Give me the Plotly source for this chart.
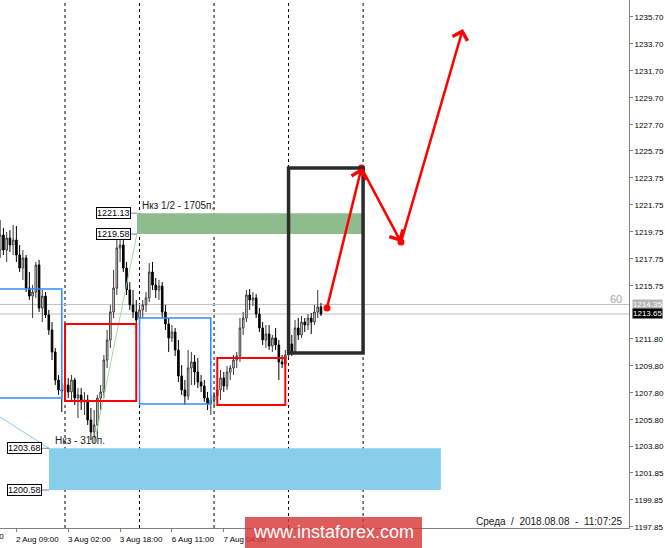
import plotly.graph_objects as go

# ---------------- data ----------------
bar_index = list(range(100))  # H1 bars, 2 Aug 04:00 ... 8 Aug 11:00

opens = [1218.40, 1219.51, 1218.40, 1219.29, 1218.77, 1219.14, 1218.03, 1217.06, 1217.81, 1215.58,
         1214.98, 1215.28, 1217.29, 1214.09, 1214.98, 1213.57, 1212.46, 1210.83, 1208.75, 1208.01,
         1207.93, 1208.38, 1207.86, 1208.75, 1207.41, 1207.64, 1207.12, 1207.26, 1205.78, 1204.89,
         1205.41, 1207.41, 1207.86, 1210.23, 1211.72, 1213.80, 1215.58, 1218.55, 1218.77, 1217.06,
         1215.43, 1214.32, 1213.80, 1213.35, 1213.95, 1214.32, 1214.84, 1216.77, 1215.80, 1215.43,
         1215.73, 1213.80, 1212.91, 1211.87, 1212.31, 1210.98, 1209.05, 1208.01, 1207.56, 1209.64,
         1210.09, 1209.34, 1208.60, 1208.30, 1207.41, 1206.97, 1207.26, 1207.56, 1208.01, 1208.90,
         1208.30, 1209.34, 1209.64, 1210.23, 1210.53, 1212.61, 1213.35, 1215.06, 1214.69, 1214.84,
         1213.65, 1212.61, 1211.72, 1212.16, 1211.27, 1211.87, 1211.35, 1210.09, 1209.94, 1210.60,
         1211.42, 1210.83, 1212.61, 1212.09, 1213.05, 1212.83, 1213.35, 1213.05, 1213.80, 1214.17]

highs = [1220.63, 1220.03, 1219.74, 1219.88, 1220.26, 1220.18, 1218.77, 1218.40, 1218.03, 1216.77,
         1215.80, 1217.51, 1217.66, 1215.43, 1215.28, 1213.95, 1213.05, 1211.12, 1209.12, 1208.53,
         1208.90, 1208.90, 1209.12, 1208.90, 1208.15, 1208.15, 1207.86, 1207.64, 1206.67, 1206.52,
         1207.64, 1208.38, 1210.60, 1212.46, 1214.32, 1216.92, 1219.29, 1219.58, 1219.14, 1217.51,
         1216.02, 1215.43, 1214.69, 1214.32, 1214.69, 1215.28, 1217.43, 1217.51, 1216.32, 1216.17,
         1216.02, 1214.32, 1213.35, 1212.83, 1212.61, 1211.72, 1209.86, 1208.75, 1210.98, 1210.83,
         1210.60, 1210.38, 1209.12, 1208.75, 1207.86, 1207.64, 1207.86, 1208.38, 1209.49, 1209.34,
         1209.79, 1209.86, 1210.60, 1210.83, 1213.35, 1213.80, 1215.43, 1215.50, 1215.28, 1215.13,
         1214.09, 1213.05, 1212.83, 1212.83, 1212.09, 1212.61, 1211.72, 1210.60, 1210.98, 1211.72,
         1212.09, 1213.20, 1213.35, 1213.50, 1213.35, 1213.65, 1213.72, 1214.32, 1215.43, 1214.47]

lows = [1217.81, 1218.03, 1217.51, 1218.25, 1218.03, 1217.51, 1216.77, 1216.17, 1215.28, 1214.69,
        1213.35, 1214.84, 1213.80, 1213.05, 1213.35, 1212.09, 1210.23, 1208.38, 1207.64, 1206.37,
        1207.12, 1207.41, 1207.26, 1206.89, 1205.93, 1206.52, 1206.15, 1205.41, 1204.29, 1204.00,
        1204.44, 1206.52, 1207.41, 1209.64, 1211.12, 1213.35, 1215.06, 1217.51, 1216.77, 1215.06,
        1213.95, 1213.35, 1212.61, 1213.05, 1213.35, 1213.80, 1214.54, 1215.43, 1214.84, 1214.69,
        1213.35, 1212.46, 1210.83, 1211.57, 1210.53, 1208.60, 1207.64, 1206.89, 1207.26, 1208.38,
        1208.38, 1208.15, 1207.86, 1207.12, 1206.52, 1206.15, 1206.82, 1207.26, 1207.26, 1207.86,
        1208.01, 1208.75, 1209.12, 1209.64, 1210.09, 1212.09, 1213.05, 1213.95, 1214.24, 1213.35,
        1212.31, 1211.35, 1211.12, 1210.98, 1210.83, 1210.98, 1208.75, 1209.64, 1209.79, 1210.38,
        1210.53, 1210.68, 1211.72, 1211.87, 1212.31, 1212.46, 1212.16, 1212.83, 1213.35, 1213.50]

closes = [1219.51, 1218.40, 1219.29, 1218.77, 1219.14, 1218.03, 1217.06, 1217.81, 1215.58, 1214.98,
          1215.28, 1217.29, 1214.09, 1214.98, 1213.57, 1212.46, 1210.83, 1208.75, 1208.01, 1207.93,
          1208.38, 1207.86, 1208.75, 1207.41, 1207.64, 1207.12, 1207.26, 1205.78, 1204.89, 1205.41,
          1207.41, 1207.86, 1210.23, 1211.72, 1213.80, 1215.58, 1218.55, 1218.77, 1217.06, 1215.43,
          1214.32, 1213.80, 1213.20, 1213.95, 1214.32, 1214.84, 1216.77, 1215.80, 1215.43, 1215.73,
          1213.80, 1212.91, 1211.87, 1212.31, 1210.98, 1209.05, 1208.01, 1207.56, 1209.64, 1210.09,
          1209.34, 1208.60, 1208.30, 1207.41, 1206.97, 1207.26, 1207.56, 1208.01, 1208.90, 1208.30,
          1209.34, 1209.64, 1210.23, 1210.53, 1212.61, 1213.35, 1215.06, 1214.69, 1214.84, 1213.65,
          1212.61, 1211.72, 1212.16, 1211.27, 1211.87, 1211.35, 1210.09, 1209.94, 1210.60, 1211.42,
          1210.83, 1212.61, 1212.09, 1213.05, 1212.83, 1213.35, 1213.05, 1213.80, 1214.17, 1213.65]

time_tick_bars = [5, 21, 37, 53, 69]
time_tick_labels = ["2 Aug 09:00", "3 Aug 02:00", "3 Aug 18:00", "6 Aug 11:00", "7 Aug 04:00"]
separator_bars = [20, 43, 66, 89, 112]

price_ticks = [1235.70, 1233.70, 1231.70, 1229.70, 1227.70, 1225.75, 1223.75, 1221.75, 1219.75,
               1217.75, 1215.75, 1211.80, 1209.80, 1207.80, 1205.80, 1203.80, 1201.85, 1199.85, 1197.85]
price_tick_labels = ["%.2f" % v for v in price_ticks]

bid_price = 1213.65
ask_price = 1214.35

green_zone_x = [42.2, 112.0]
green_zone_y = [1219.58, 1221.13]
green_zone_text = "Нкз 1/2 - 1705п."
blue_zone_x = [15.06, 136.0]
blue_zone_y = [1200.58, 1203.68]
blue_zone_text = "Нкз - 310п."

box_x0 = [-3.0, 20, 43, 67, 89]
box_x1 = [19, 42, 65, 88, 112]
box_low = [1207.41, 1207.19, 1206.97, 1206.90, 1210.75]
box_high = [1215.50, 1212.91, 1213.35, 1210.38, 1224.49]
box_color = ["#2f8fff", "#ff0000", "#2f8fff", "#ff0000", "#2b2b2b"]
box_width = [1.6, 2, 1.6, 2, 3.5]

forecast_x = [100.86, 111.5, 123.7, 142.8]
forecast_y = [1214.10, 1224.49, 1218.99, 1234.81]

green_line_x = [29, 42.2]
green_line_y = [1204.00, 1219.58]
blue_line_x = [-0.06, 15.06]
blue_line_y = [1206.00, 1203.68]

x_range = [-0.06, 194.07]
y_range = [1197.76, 1236.96]

FONT = "Liberation Sans, Arial, sans-serif"

fig = go.Figure()

fig.add_trace(go.Candlestick(
    x=bar_index, open=opens, high=highs, low=lows, close=closes,
    increasing=dict(line=dict(color="#3a3a3a", width=1), fillcolor="#ffffff"),
    decreasing=dict(line=dict(color="#000000", width=1), fillcolor="#000000"),
    hoverinfo="skip", showlegend=False))

shapes = []
shapes.append(dict(type="rect", xref="x", yref="y", x0=green_zone_x[0], x1=green_zone_x[1],
                   y0=green_zone_y[0], y1=green_zone_y[1], fillcolor="#8fbc8f",
                   line=dict(width=0), layer="below"))
shapes.append(dict(type="rect", xref="x", yref="y", x0=blue_zone_x[0], x1=blue_zone_x[1],
                   y0=blue_zone_y[0], y1=blue_zone_y[1], fillcolor="#87ceeb",
                   line=dict(width=0), layer="below"))
for s in separator_bars:
    shapes.append(dict(type="line", xref="x", yref="paper", x0=s, x1=s, y0=0, y1=1,
                       line=dict(color="#000000", width=1, dash="dot"), layer="below"))
for p in [bid_price, ask_price]:
    shapes.append(dict(type="line", xref="paper", yref="y", x0=0, x1=1, y0=p, y1=p,
                       line=dict(color="#c0c0c0", width=1), layer="below"))
shapes.append(dict(type="line", xref="x", yref="y", x0=green_line_x[0], x1=green_line_x[1],
                   y0=green_line_y[0], y1=green_line_y[1], line=dict(color="#98e098", width=1)))
shapes.append(dict(type="line", xref="x", yref="y", x0=blue_line_x[0], x1=blue_line_x[1],
                   y0=blue_line_y[0], y1=blue_line_y[1], line=dict(color="#87ceeb", width=1)))
for x0, x1, lo, hi, c, w in zip(box_x0, box_x1, box_low, box_high, box_color, box_width):
    shapes.append(dict(type="rect", xref="x", yref="y", x0=x0, x1=x1, y0=lo, y1=hi,
                       line=dict(color=c, width=w), fillcolor="rgba(0,0,0,0)", layer="above"))
for p in green_zone_y:
    shapes.append(dict(type="line", xref="x", yref="y", x0=40.37, x1=green_zone_x[0], y0=p, y1=p,
                       line=dict(color="#808080", width=1)))
for p in blue_zone_y:
    shapes.append(dict(type="line", xref="x", yref="y", x0=12.9, x1=blue_zone_x[0], y0=p, y1=p,
                       line=dict(color="#808080", width=1)))
# watermark box
shapes.append(dict(type="rect", xref="paper", yref="paper", x0=0.3895, x1=0.6709,
                   y0=-0.04, y1=0.0208, fillcolor="rgba(216,56,56,0.82)",
                   line=dict(width=0), layer="above"))

annotations = []
for p in green_zone_y:
    annotations.append(dict(x=40.37, y=p, xref="x", yref="y", text="%.2f" % p, showarrow=False,
                            xanchor="right", yanchor="middle", bgcolor="white",
                            bordercolor="#000000", borderwidth=1, borderpad=0,
                            font=dict(family=FONT, size=9, color="#000000")))
for p in blue_zone_y:
    annotations.append(dict(x=12.9, y=p, xref="x", yref="y", text="%.2f" % p, showarrow=False,
                            xanchor="right", yanchor="middle", bgcolor="white",
                            bordercolor="#000000", borderwidth=1, borderpad=0,
                            font=dict(family=FONT, size=9, color="#000000")))
annotations.append(dict(x=43.1, y=1221.74, xref="x", yref="y", text=green_zone_text,
                        showarrow=False, xanchor="left", yanchor="middle",
                        font=dict(family=FONT, size=10, color="#202020")))
annotations.append(dict(x=16.3, y=1204.22, xref="x", yref="y", text=blue_zone_text,
                        showarrow=False, xanchor="left", yanchor="middle",
                        font=dict(family=FONT, size=10, color="#202020")))
for k in range(len(forecast_x) - 1):
    annotations.append(dict(x=forecast_x[k + 1], y=forecast_y[k + 1], ax=forecast_x[k], ay=forecast_y[k],
                            xref="x", yref="y", axref="x", ayref="y", text="", showarrow=True,
                            arrowhead=4, arrowsize=1.2, arrowwidth=2.5, arrowcolor="#ff0000",
                            standoff=0, startstandoff=0))
annotations.append(dict(x=1, y=ask_price, xref="paper", yref="y", xshift=3, text="%.2f" % ask_price,
                        showarrow=False, xanchor="left", yanchor="middle", bgcolor="#b4b4b4",
                        borderpad=0, font=dict(family=FONT, size=8, color="#ffffff")))
annotations.append(dict(x=1, y=bid_price, xref="paper", yref="y", xshift=3, text="%.2f" % bid_price,
                        showarrow=False, xanchor="left", yanchor="middle", bgcolor="#000000",
                        borderpad=0, font=dict(family=FONT, size=8, color="#ffffff")))
annotations.append(dict(x=0.992, y=1214.76, xref="paper", yref="y", text="60", showarrow=False,
                        xanchor="right", yanchor="middle",
                        font=dict(family=FONT, size=11, color="#a8a8a8")))
annotations.append(dict(x=0.9936, y=0.0114, xref="paper", yref="paper",
                        text="Среда  /  2018.08.08  -  11:07:25", showarrow=False,
                        xanchor="right", yanchor="middle",
                        font=dict(family=FONT, size=10, color="#202020")))
annotations.append(dict(x=0.0095, y=-0.017, xref="paper", yref="paper", text="1 Aug 17:00",
                        showarrow=False, xanchor="right", yanchor="middle",
                        font=dict(family=FONT, size=8, color="#000000")))
annotations.append(dict(x=0.530, y=-0.0075, xref="paper", yref="paper", text="www.instaforex.com",
                        showarrow=False, xanchor="center", yanchor="middle",
                        font=dict(family=FONT, size=18, color="#ffffff")))

fig.add_trace(go.Scatter(x=forecast_x[:3], y=forecast_y[:3], mode="markers",
                         marker=dict(color="#ff0000", size=7), hoverinfo="skip", showlegend=False))

fig.update_layout(
    width=665, height=548,
    margin=dict(l=0, r=36, t=0, b=20, pad=0),
    paper_bgcolor="white", plot_bgcolor="white",
    font=dict(family=FONT, size=8, color="#000000"),
    showlegend=False,
    shapes=shapes, annotations=annotations,
    xaxis=dict(range=x_range, showgrid=False, zeroline=False, rangeslider=dict(visible=False),
               tickmode="array", tickvals=time_tick_bars, ticktext=time_tick_labels,
               ticks="outside", ticklen=3, tickcolor="#808080", ticklabelshift=21,
               showline=True, linecolor="#808080", linewidth=1,
               tickfont=dict(family=FONT, size=8, color="#000000"), fixedrange=True),
    yaxis=dict(range=y_range, side="right", showgrid=False, zeroline=False,
               tickmode="array", tickvals=price_ticks, ticktext=price_tick_labels,
               ticks="outside", ticklen=3, tickcolor="#808080",
               showline=True, linecolor="#808080", linewidth=1,
               tickfont=dict(family=FONT, size=8, color="#000000"), fixedrange=True),
)

fig.write_html("out.html", config={"displayModeBar": False},
               post_script="document.body.style.margin='0';document.body.style.overflow='hidden';")
